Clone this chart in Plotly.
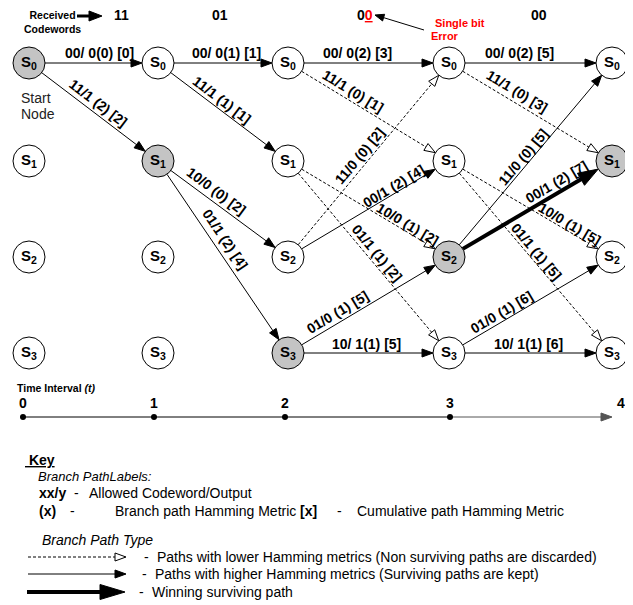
import math
import plotly.graph_objects as go

# ---------------- data ----------------
received_codewords = ["11", "01", "00", "00"]
error_bit_index = [None, None, 1, None]          # position of the flipped bit
time_ticks = ["0", "1", "2", "3", "4"]
state_names = ["0", "1", "2", "3"]
winning_states = [0, 1, 3, 2, 1]                 # shaded node at each time step

edge_t    = [0, 0, 1, 1, 1, 1, 2, 2, 2, 2, 2, 2, 2, 2, 3, 3, 3, 3, 3, 3, 3, 3]
edge_from = [0, 0, 0, 0, 1, 1, 0, 0, 1, 1, 2, 2, 3, 3, 0, 0, 1, 1, 2, 2, 3, 3]
edge_to   = [0, 1, 0, 1, 2, 3, 0, 1, 2, 3, 0, 1, 2, 3, 0, 1, 2, 3, 0, 1, 2, 3]
edge_code = ["00", "11", "00", "11", "10", "01", "00", "11", "10", "01", "11",
             "00", "01", "10", "00", "11", "10", "01", "11", "00", "01", "10"]
edge_out  = [0, 1, 0, 1, 0, 1, 0, 1, 0, 1, 0, 1, 0, 1, 0, 1, 0, 1, 0, 1, 0, 1]
edge_bm   = [0, 2, 1, 1, 0, 2, 2, 0, 1, 1, 0, 2, 1, 1, 2, 0, 1, 1, 0, 2, 1, 1]
edge_cm   = [0, 2, 1, 1, 2, 4, 3, 1, 2, 2, 2, 4, 5, 5, 5, 3, 5, 5, 5, 7, 6, 6]
edge_kind = ["kept", "kept",
             "kept", "kept", "kept", "kept",
             "kept", "discarded", "discarded", "discarded", "discarded", "kept", "kept", "kept",
             "kept", "discarded", "discarded", "discarded", "kept", "winner", "kept", "kept"]

legend_texts = ["Paths with lower Hamming metrics (Non surviving paths are discarded)",
                "Paths with higher Hamming metrics (Surviving paths are kept)",
                "Winning surviving path"]
legend_kinds = ["discarded", "kept", "winner"]

# ---------------- layout / style ----------------
W, H = 633, 605
PAGE_MARGIN = 8            # default body margin of the html page
COL_X = [29, 158, 288, 449, 612]
ROW_Y = [63, 161, 257, 353]
R = 16
TIME_X = [23, 154, 285, 450, 621]
TIME_Y = 417
RECV_X = [121, 220, 365, 539]
FONT = "Liberation Sans, Arial, sans-serif"
GRAY = "#c4c4c4"

# label placement: (fraction along edge, perpendicular offset)
LABEL_POS = {
    (0, 0, 0): (.55, 10), (0, 0, 1): (.49, 10),
    (1, 0, 0): (.53, 10), (1, 0, 1): (.45, 9.5), (1, 1, 2): (.40, 11), (1, 1, 3): (.44, 12),
    (2, 0, 0): (.43, 10), (2, 0, 1): (.37, 10), (2, 1, 2): (.72, 7), (2, 1, 3): (.51, 8.5),
    (2, 2, 0): (.49, 10), (2, 2, 1): (.68, 7), (2, 3, 2): (.34, 9.5), (2, 3, 3): (.49, 9),
    (3, 0, 0): (.43, 10), (3, 0, 1): (.38, 11), (3, 1, 2): (.72, 7), (3, 1, 3): (.50, 8.5),
    (3, 2, 0): (.49, 7.5), (3, 2, 1): (.69, 10), (3, 3, 2): (.35, 8.5), (3, 3, 3): (.49, 9),
}

shapes, annots = [], []


def add_arrow(x0, y0, x1, y1, kind, r0=0.0, r1=0.0, hl=None, hw=None, width=None, color="black"):
    dx, dy = x1 - x0, y1 - y0
    L = math.hypot(dx, dy)
    ux, uy = dx / L, dy / L
    sx, sy = x0 + ux * r0, y0 + uy * r0
    tx, ty = x1 - ux * r1, y1 - uy * r1
    if kind == "winner":
        hl = hl or 20; hw = hw or 7; width = width or 4
    else:
        hl = hl or 11; hw = hw or 4; width = width or 1
    bx, by = tx - ux * hl, ty - uy * hl
    nx, ny = -uy, ux
    ex, ey = (bx + ux * 2, by + uy * 2) if kind != "discarded" else (bx, by)
    shapes.append(dict(type="line", xref="x", yref="y", x0=sx, y0=sy, x1=ex, y1=ey,
                       line=dict(color=color, width=width,
                                 dash="3px,2px" if kind == "discarded" else "solid"),
                       layer="below"))
    path = (f"M{tx:.2f},{ty:.2f} L{bx + nx * hw:.2f},{by + ny * hw:.2f} "
            f"L{bx - nx * hw:.2f},{by - ny * hw:.2f} Z")
    shapes.append(dict(type="path", xref="x", yref="y", path=path,
                       fillcolor="white" if kind == "discarded" else color,
                       line=dict(color=color, width=1), layer="below"))


def text(x, y, s, size=14, bold=False, italic=False, color="black", anchor="center", angle=0):
    if bold:
        s = f"<b>{s}</b>"
    if italic:
        s = f"<i>{s}</i>"
    annots.append(dict(x=x, y=y, xref="x", yref="y", text=s, showarrow=False,
                       xanchor=anchor, yanchor="middle", textangle=angle,
                       font=dict(family=FONT, size=size, color=color)))


# ---------------- trellis edges ----------------
for t, a, b, code, out, bm, cm, kind in zip(edge_t, edge_from, edge_to, edge_code,
                                             edge_out, edge_bm, edge_cm, edge_kind):
    x0, y0 = COL_X[t], ROW_Y[a]
    x1, y1 = COL_X[t + 1], ROW_Y[b]
    add_arrow(x0, y0, x1, y1, kind, r0=R, r1=R)
    if a == b:
        label = f"{code}/ {out}({bm}) [{cm}]"
    else:
        label = f"{code}/{out} ({bm}) [{cm}]"
    f, off = LABEL_POS[(t, a, b)]
    dx, dy = x1 - x0, y1 - y0
    L = math.hypot(dx, dy)
    nx, ny = dy / L, -dx / L
    lx, ly = x0 + dx * f + nx * off, y0 + dy * f + ny * off
    ang = math.degrees(math.atan2(dy, dx))
    text(lx, ly, label, size=14, bold=True, angle=ang)

# ---------------- nodes ----------------
nx_, ny_, ncol, ntxt = [], [], [], []
for t in range(len(time_ticks)):
    for s in range(len(state_names)):
        nx_.append(COL_X[t])
        ny_.append(ROW_Y[s])
        ncol.append(GRAY if winning_states[t] == s else "white")
        ntxt.append(f"<b>S<sub>{state_names[s]}</sub></b>")
fig = go.Figure()
fig.add_trace(go.Scatter(x=nx_, y=ny_, mode="markers+text", text=ntxt,
                         textposition="middle center",
                         textfont=dict(family=FONT, size=15, color="black"),
                         marker=dict(size=2 * R, color=ncol, line=dict(color="black", width=1)),
                         hoverinfo="skip"))

# ---------------- received codewords ----------------
text(22, 22, "<b>Received</b><br><b>Codewords</b>", size=10.5, anchor="left")
add_arrow(77, 16, 102, 16, "kept", hl=13, hw=5, width=3)
for i, cw in enumerate(received_codewords):
    if error_bit_index[i] is not None:
        k = error_bit_index[i]
        s = "".join(f"<span style='color:#ff0000'><u>{c}</u></span>" if j == k else c
                    for j, c in enumerate(cw))
    else:
        s = cw
    text(RECV_X[i], 15, s, size=14, bold=True)
add_arrow(424, 30, 375, 15, "kept", hl=9, hw=3.5, width=1)
text(433, 23, "Single bit", size=11, bold=True, color="#ff0000", anchor="left")
text(429, 36, "Error", size=11, bold=True, color="#ff0000", anchor="left")
text(19, 98, "Start", size=14, color="#222222", anchor="left")
text(19, 114, "Node", size=14, color="#222222", anchor="left")

# ---------------- time axis ----------------
fig.add_trace(go.Scatter(x=TIME_X[:4], y=[TIME_Y] * 4, mode="lines+markers",
                         line=dict(color="black", width=1),
                         marker=dict(size=6, color="black"), hoverinfo="skip"))
add_arrow(TIME_X[3], TIME_Y, 612, TIME_Y, "kept", hl=11, hw=4, width=1, color="#555555")
text(15, 388, "<b>Time Interval </b><b><i>(t)</i></b>", size=10.5, anchor="left")
for i, tk in enumerate(time_ticks):
    text(TIME_X[i], 403, tk, size=14, bold=True)

# ---------------- key ----------------
text(23, 460, "<u> Key</u>", size=14, bold=True, anchor="left")
text(36, 476, "Branch PathLabels:", size=13, italic=True, anchor="left")
text(37, 493, "xx/y", size=14, bold=True, anchor="left")
text(72, 493, "-", size=14, anchor="left")
text(87, 493, "Allowed Codeword/Output", size=14, anchor="left")
text(37, 511, "(x)", size=14, bold=True, anchor="left")
text(68, 511, "-", size=14, anchor="left")
text(113, 511, "Branch path Hamming Metric", size=14, anchor="left")
text(298, 511, "[x]", size=14, bold=True, anchor="left")
text(335, 511, "-", size=14, anchor="left")
text(355, 511, "Cumulative path Hamming Metric", size=14, anchor="left")
text(40, 540, "Branch Path Type", size=14, italic=True, anchor="left")

LEG_Y = [557, 574, 592]
LEG_TX = [155, 153, 150]
for i, (lbl, kind) in enumerate(zip(legend_texts, legend_kinds)):
    y = LEG_Y[i]
    if kind == "winner":
        add_arrow(27, y, 125, y, kind, hl=25, hw=7.5, width=4)
    else:
        add_arrow(28, y, 126, y, kind, hl=11, hw=4)
    text(LEG_TX[i] - 13, y, "-", size=14, anchor="left")
    text(LEG_TX[i], y, lbl, size=14, anchor="left")

# the html body has an 8px margin, so the figure is shrunk by that amount and its
# axis ranges start at 8 so that page pixels line up with the reference picture
fig.update_layout(
    width=W - PAGE_MARGIN, height=H - PAGE_MARGIN, margin=dict(l=0, r=0, t=0, b=0),
    paper_bgcolor="white", plot_bgcolor="white", showlegend=False,
    xaxis=dict(range=[PAGE_MARGIN, W], visible=False, fixedrange=True),
    yaxis=dict(range=[H, PAGE_MARGIN], visible=False, fixedrange=True),
    shapes=shapes, annotations=annots,
)
fig.write_html("out.html")
